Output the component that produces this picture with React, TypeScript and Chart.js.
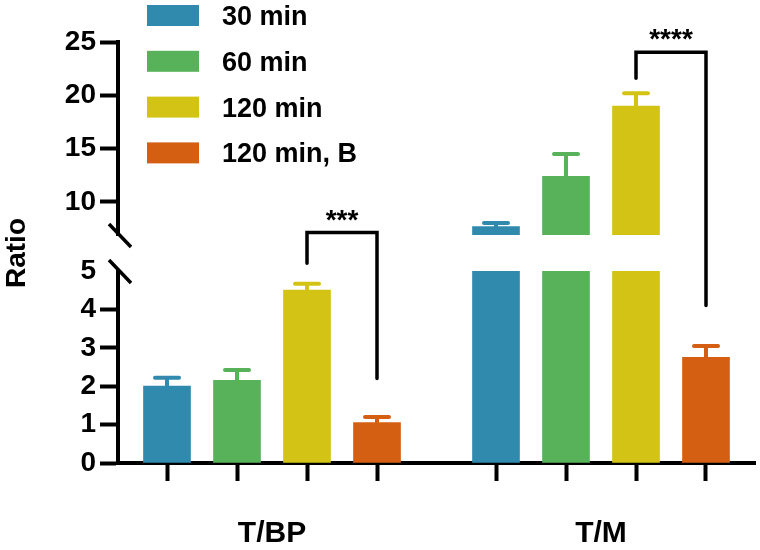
import React, { useEffect, useRef } from "react";
import { Chart, registerables } from "chart.js";

Chart.register(...registerables);

// ---------- data ----------
const groups = ["T/BP", "T/M"];
const groupCenters = [2.5, 7.2];
const barOffsets = [-1.5, -0.5, 0.5, 1.5];
const seriesNames = ["30 min", "60 min", "120 min", "120 min, B"];
const seriesColors = ["#2F8AAE", "#58B25A", "#D3C314", "#D45F12"];
const values30 = [2.0, 7.7];
const values60 = [2.15, 12.4];
const values120 = [4.5, 19.0];
const values120B = [1.05, 2.75];
const errors30 = [0.22, 0.33];
const errors60 = [0.27, 2.1];
const errors120 = [0.17, 1.2];
const errors120B = [0.15, 0.3];
const lowerTicks = [0, 1, 2, 3, 4, 5];
const upperTicks = [10, 15, 20, 25];
const lowerRange = [0, 5];
const upperRange = [6.9, 25];
const xRange = [0.3, 9.4];
const yTitle = "Ratio";

// significance brackets: [value, axis] for top, left end, right end, label
const brackets = [
  { group: 0, from: 2, to: 3, label: "***", top: [6.0, "yLow"], leftEnd: [5.2, "yLow"], rightEnd: [2.2, "yLow"], labelAt: [6.5, "yLow"] },
  { group: 1, from: 2, to: 3, label: "****", top: [24.05, "yHigh"], leftEnd: [21.6, "yHigh"], rightEnd: [4.1, "yLow"], labelAt: [25.9, "yHigh"] },
];

const seriesValues = [values30, values60, values120, values120B];
const seriesErrors = [errors30, errors60, errors120, errors120B];

const FONT = "'Liberation Sans', Arial, Helvetica, sans-serif";

const posOf = (g: number, s: number) => groupCenters[g] + barOffsets[s];

export default function App() {
  const ref = useRef<HTMLCanvasElement>(null);

  useEffect(() => {
    if (!ref.current) return;

    const datasets: any[] = [];
    ["yLow", "yHigh"].forEach((axis) => {
      seriesNames.forEach((name, s) => {
        datasets.push({
          label: name,
          yAxisID: axis,
          data: groups.map((_, g) => ({ x: posOf(g, s), y: seriesValues[s][g] })),
          backgroundColor: seriesColors[s],
          borderWidth: 0,
          barThickness: 47,
          grouped: false,
          clip: 0,
        });
      });
    });

    const pickAxis = (chart: any, v: number) =>
      v > lowerRange[1] ? chart.scales.yHigh : chart.scales.yLow;

    const extras = {
      id: "extras",
      afterDatasetsDraw(chart: any) {
        const ctx = chart.ctx;
        const xs = chart.scales.x;
        ctx.save();
        // error bars
        seriesNames.forEach((_, s) => {
          groups.forEach((__, g) => {
            const v = seriesValues[s][g];
            const e = seriesErrors[s][g];
            const ax = pickAxis(chart, v);
            const px = xs.getPixelForValue(posOf(g, s));
            const y0 = ax.getPixelForValue(v);
            const y1 = ax.getPixelForValue(v + e);
            ctx.strokeStyle = seriesColors[s];
            ctx.lineWidth = 4;
            ctx.lineCap = "round";
            ctx.beginPath();
            ctx.moveTo(px, y0);
            ctx.lineTo(px, y1);
            ctx.moveTo(px - 12, y1);
            ctx.lineTo(px + 12, y1);
            ctx.stroke();
          });
        });
        // brackets
        brackets.forEach((b) => {
          const xl = xs.getPixelForValue(posOf(b.group, b.from));
          const xr = xs.getPixelForValue(posOf(b.group, b.to));
          const yp = (p: any) => chart.scales[p[1]].getPixelForValue(p[0]);
          const yt = yp(b.top);
          ctx.strokeStyle = "#000";
          ctx.lineWidth = 3.5;
          ctx.lineCap = "round";
          ctx.lineJoin = "miter";
          ctx.beginPath();
          ctx.moveTo(xl, yp(b.leftEnd));
          ctx.lineTo(xl, yt);
          ctx.lineTo(xr, yt);
          ctx.lineTo(xr, yp(b.rightEnd));
          ctx.stroke();
          ctx.fillStyle = "#000";
          ctx.font = `bold 28px ${FONT}`;
          ctx.textAlign = "center";
          ctx.textBaseline = "alphabetic";
          ctx.fillText(b.label, (xl + xr) / 2, yp(b.labelAt) + 16);
        });
        // axis break marks
        const lo = chart.scales.yLow;
        const hi = chart.scales.yHigh;
        const ax = lo.right;
        ctx.strokeStyle = "#000";
        ctx.lineWidth = 3.5;
        ctx.lineCap = "butt";
        [hi.bottom, lo.top].forEach((y: number) => {
          ctx.beginPath();
          ctx.moveTo(ax - 9, y - 11);
          ctx.lineTo(ax + 13, y + 12);
          ctx.stroke();
        });
        // legend
        ctx.font = `bold 27px ${FONT}`;
        ctx.textAlign = "left";
        ctx.textBaseline = "middle";
        seriesNames.forEach((name, s) => {
          const cy = 15.5 + s * 45.8;
          ctx.fillStyle = seriesColors[s];
          ctx.fillRect(147, cy - 10.5, 52, 21);
          ctx.fillStyle = "#000";
          ctx.fillText(name, 222, cy + 2);
        });
        ctx.restore();
      },
    };

    const yCommon = (extra: any) => ({
      type: "linear",
      position: "left",
      stack: "y",
      offset: false,
      afterFit: (sc: any) => {
        sc.width = 118;
      },
      border: { display: true, color: "#000", width: 4 },
      ...extra,
    });

    const tickFont = { family: FONT, size: 28, weight: "bold" };

    const chart = new Chart(ref.current, {
      type: "bar",
      data: { datasets },
      options: {
        responsive: false,
        animation: false,
        events: [],
        layout: { padding: { left: 0, right: 5, top: 42, bottom: 0 } },
        plugins: { legend: { display: false }, tooltip: { enabled: false } },
        scales: {
          x: {
            type: "linear",
            position: "bottom",
            min: xRange[0],
            max: xRange[1],
            offset: false,
            afterBuildTicks: (sc: any) => {
              const t: any[] = [];
              groups.forEach((_, g) => {
                barOffsets.forEach((__, s) => t.push({ value: posOf(g, s) }));
                t.push({ value: groupCenters[g] });
              });
              sc.ticks = t;
            },
            afterFit: (sc: any) => {
              sc.height = 87;
            },
            border: { display: true, color: "#000", width: 4 },
            grid: {
              offset: false,
              drawOnChartArea: false,
              drawTicks: true,
              tickLength: 18,
              tickWidth: 4,
              tickColor: (c: any) =>
                c.tick && groupCenters.includes(c.tick.value) ? "rgba(0,0,0,0)" : "#000",
            },
            ticks: {
              autoSkip: false,
              maxRotation: 0,
              padding: 35,
              color: "#000",
              font: { family: FONT, size: 30, weight: "bold" },
              callback: (v: any) => {
                const gi = groupCenters.indexOf(v);
                return gi >= 0 ? groups[gi] : "";
              },
            },
          },
          yLow: yCommon({
            min: lowerRange[0],
            max: lowerRange[1],
            stackWeight: 192,
            afterBuildTicks: (sc: any) => {
              sc.ticks = lowerTicks.map((v) => ({ value: v }));
            },
            grid: {
              drawOnChartArea: false,
              tickLength: 18,
              tickWidth: 4,
              tickColor: (c: any) =>
                c.tick && c.tick.value === lowerRange[1] ? "rgba(0,0,0,0)" : "#000",
            },
            ticks: { autoSkip: false, padding: 4, color: "#000", font: tickFont },
          }),
          yGap: yCommon({
            min: 0,
            max: 1,
            stackWeight: 36,
            border: { display: false },
            grid: { display: false },
            ticks: { display: false },
            title: {
              display: true,
              text: yTitle,
              color: "#000",
              padding: { top: 0, bottom: 0 },
              font: { family: FONT, size: 28, weight: "bold" },
            },
          }),
          yHigh: yCommon({
            min: upperRange[0],
            max: upperRange[1],
            stackWeight: 193,
            afterBuildTicks: (sc: any) => {
              sc.ticks = upperTicks.map((v) => ({ value: v }));
            },
            grid: { drawOnChartArea: false, tickLength: 18, tickWidth: 4, tickColor: "#000" },
            ticks: { autoSkip: false, padding: 4, color: "#000", font: tickFont },
          }),
        },
      } as any,
      plugins: [extras],
    });

    return () => chart.destroy();
  }, []);

  return (
    <div style={{ position: "fixed", left: 0, top: 0, width: 760, height: 550, background: "#fff" }}>
      <canvas ref={ref} width={760} height={550} />
    </div>
  );
}
